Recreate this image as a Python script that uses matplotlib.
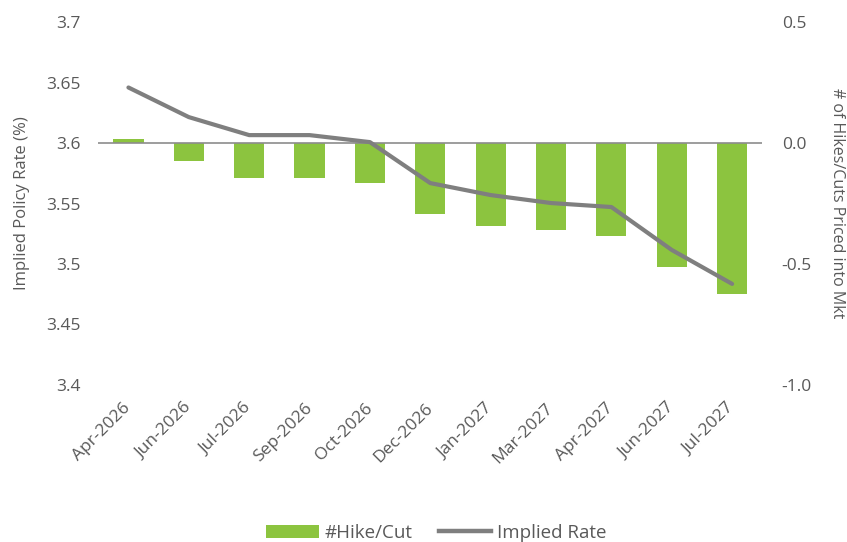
import matplotlib.pyplot as plt
from matplotlib.patches import Patch
from matplotlib.lines import Line2D
from matplotlib.ticker import FormatStrFormatter

plt.rcParams['font.family'] = ['Open Sans', 'DejaVu Sans']

months = ['Apr-2026', 'Jun-2026', 'Jul-2026', 'Sep-2026', 'Oct-2026', 'Dec-2026',
          'Jan-2027', 'Mar-2027', 'Apr-2027', 'Jun-2027', 'Jul-2027']
hike_cut = [0.017, -0.074, -0.145, -0.145, -0.165, -0.293,
            -0.343, -0.36, -0.384, -0.514, -0.624]
implied_rate = [3.646, 3.6215, 3.6066, 3.6066, 3.6008, 3.5669,
                3.557, 3.5504, 3.5471, 3.5116, 3.4835]

GREEN = '#8cc43f'
GREY_LINE = '#7f7f7f'
TXT = '#595959'

fig = plt.figure(figsize=(8.47, 5.42), dpi=100)
ax1 = fig.add_axes([0.116, 0.290, 0.784, 0.669])
ax2 = ax1.twinx()

x = range(len(months))
ax2.bar(x, hike_cut, width=0.5, color=GREEN, zorder=2)
ax2.axhline(0, color='#8c8c8c', linewidth=1.2, zorder=3)
ax1.plot(x, implied_rate, color=GREY_LINE, linewidth=3.0, solid_capstyle='round', zorder=4)

# line on top of the bars
ax1.set_zorder(ax2.get_zorder() + 1)
ax1.patch.set_visible(False)

ax1.set_xlim(-0.5, len(months) - 0.5)
ax1.set_ylim(3.4, 3.7)
ax1.set_yticks([3.4, 3.45, 3.5, 3.55, 3.6, 3.65, 3.7])
ax1.set_yticklabels(['3.4', '3.45', '3.5', '3.55', '3.6', '3.65', '3.7'])
ax2.set_ylim(-1.0, 0.5)
ax2.set_yticks([-1.0, -0.5, 0.0, 0.5])
ax2.yaxis.set_major_formatter(FormatStrFormatter('%.1f'))

ax1.set_xticks(list(x))
ax1.set_xticklabels(months, rotation=45, ha='right', va='center', rotation_mode='anchor')

for ax in (ax1, ax2):
    for s in ax.spines.values():
        s.set_visible(False)
    ax.tick_params(length=0, colors=TXT, labelsize=12.5)

ax1.tick_params(axis='y', pad=13)
ax2.tick_params(axis='y', pad=14)
ax1.tick_params(axis='x', pad=15)

ax1.set_ylabel('Implied Policy Rate (%)', color=TXT, fontsize=12, va='center')
ax1.yaxis.set_label_coords(-0.1145, 0.5)
ax2.set_ylabel('# of Hikes/Cuts Priced into Mkt', color=TXT, fontsize=11.5,
               rotation=270, va='center')
ax2.yaxis.set_label_coords(1.113, 0.5)

handles = [Patch(facecolor=GREEN, label='#Hike/Cut'),
           Line2D([0], [0], color=GREY_LINE, linewidth=3.2, label='Implied Rate')]
leg = fig.legend(handles=handles, loc='center', bbox_to_anchor=(0.515, 0.017),
                 ncol=2, frameon=False, fontsize=13.5, handlelength=2.8,
                 columnspacing=1.4, handletextpad=0.3, borderaxespad=0)
for t in leg.get_texts():
    t.set_color(TXT)

fig.savefig('out.png', dpi=100)
